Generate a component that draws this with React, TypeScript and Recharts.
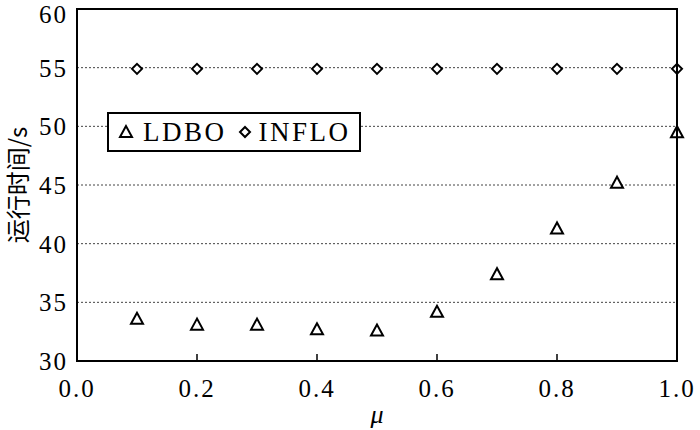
import React from 'react';
import {
  ScatterChart,
  Scatter,
  XAxis,
  YAxis,
  CartesianGrid,
  Legend,
  ReferenceLine,
} from 'recharts';

const muValues = [0.1, 0.2, 0.3, 0.4, 0.5, 0.6, 0.7, 0.8, 0.9, 1.0];
const ldboTimes = [33.6, 33.1, 33.1, 32.7, 32.6, 34.2, 37.4, 41.3, 45.2, 49.5];
const infloTimes = [54.9, 54.9, 54.9, 54.9, 54.9, 54.9, 54.9, 54.9, 54.9, 54.9];
const xTicks = [0, 0.2, 0.4, 0.6, 0.8, 1.0];
const yTicks = [30, 35, 40, 45, 50, 55, 60];

const ldboData = muValues.map((mu, i) => ({ mu, time: ldboTimes[i] }));
const infloData = muValues.map((mu, i) => ({ mu, time: infloTimes[i] }));

const FONT = '"Liberation Serif", "Times New Roman", serif';

const Triangle = (props: any) => {
  const { cx, cy } = props;
  if (cx == null || cy == null) return null;
  return (
    <polygon
      points={`${cx},${cy - 6} ${cx - 6},${cy + 5} ${cx + 6},${cy + 5}`}
      fill="#fff"
      stroke="#000"
      strokeWidth={2}
    />
  );
};

const Diamond = (props: any) => {
  const { cx, cy } = props;
  if (cx == null || cy == null) return null;
  return (
    <polygon
      points={`${cx},${cy - 5} ${cx + 5},${cy} ${cx},${cy + 5} ${cx - 5},${cy}`}
      fill="#fff"
      stroke="#000"
      strokeWidth={2}
    />
  );
};

const LegendBox = () => (
  <div
    style={{
      width: 254,
      height: 40,
      boxSizing: 'border-box',
      border: '2px solid #000',
      background: '#fff',
      display: 'flex',
      alignItems: 'center',
      fontFamily: FONT,
      fontSize: 27,
      letterSpacing: 2.5,
      color: '#000',
      whiteSpace: 'nowrap',
    }}
  >
    <svg width={30} height={20} style={{ marginLeft: 4 }}>
      <polygon points="13,4 7,15 19,15" fill="none" stroke="#000" strokeWidth={2} />
    </svg>
    <span>LDBO</span>
    <svg width={28} height={20} style={{ marginLeft: 4 }}>
      <polygon points="14,5 19,10 14,15 9,10" fill="none" stroke="#000" strokeWidth={2} />
    </svg>
    <span>INFLO</span>
  </div>
);

export default function App() {
  const tickStyle = { fontFamily: FONT, fontSize: 25, fill: '#000', letterSpacing: 2 };
  return (
    <div style={{ position: 'absolute', left: 0, top: 0, width: 700, height: 430, background: '#fff' }}>
      <ScatterChart width={700} height={430} margin={{ top: 9, right: 23, bottom: 0, left: 17 }}>
        <CartesianGrid
          vertical={false}
          stroke="#444"
          strokeDasharray="2 2"
          strokeWidth={1}
        />
        <XAxis
          dataKey="mu"
          type="number"
          domain={[0, 1]}
          ticks={xTicks}
          tickFormatter={(v: number) => v.toFixed(1)}
          tick={tickStyle}
          axisLine={{ stroke: '#000', strokeWidth: 2 }}
          tickLine={{ stroke: '#000', strokeWidth: 1.5 }}
          tickSize={-7}
          tickMargin={25}
          height={69}
          label={{
            value: 'μ',
            position: 'insideBottom',
            offset: 7,
            style: { fontFamily: FONT, fontStyle: 'italic', fontSize: 26, fill: '#000' },
          }}
        />
        <YAxis
          dataKey="time"
          type="number"
          domain={[30, 60]}
          ticks={yTicks}
          tick={tickStyle}
          axisLine={{ stroke: '#000', strokeWidth: 2 }}
          tickLine={false}
          tickSize={0}
          tickMargin={9}
          width={60}
          label={{
            value: '运行时间/s',
            angle: -90,
            position: 'insideLeft',
            offset: 1,
            style: {
              textAnchor: 'middle',
              fontFamily: '"Noto Sans CJK SC", "Liberation Serif", serif',
              fontSize: 24,
              fill: '#000',
            },
          }}
        />
        <ReferenceLine y={60} stroke="#000" strokeWidth={2} />
        <ReferenceLine x={1} stroke="#000" strokeWidth={2} />
        <Legend
          content={() => <LegendBox />}
          layout="vertical"
          verticalAlign="middle"
          align="center"
          wrapperStyle={{ position: 'absolute', left: 107, top: 112, width: 254 }}
        />
        <Scatter name="LDBO" data={ldboData} shape={<Triangle />} isAnimationActive={false} />
        <Scatter name="INFLO" data={infloData} shape={<Diamond />} isAnimationActive={false} />
      </ScatterChart>
      {/* plot frame */}
      <div
        style={{
          position: 'absolute',
          left: 76,
          top: 8,
          width: 602,
          height: 354,
          boxSizing: 'border-box',
          border: '2px solid #000',
          pointerEvents: 'none',
        }}
      />
    </div>
  );
}
